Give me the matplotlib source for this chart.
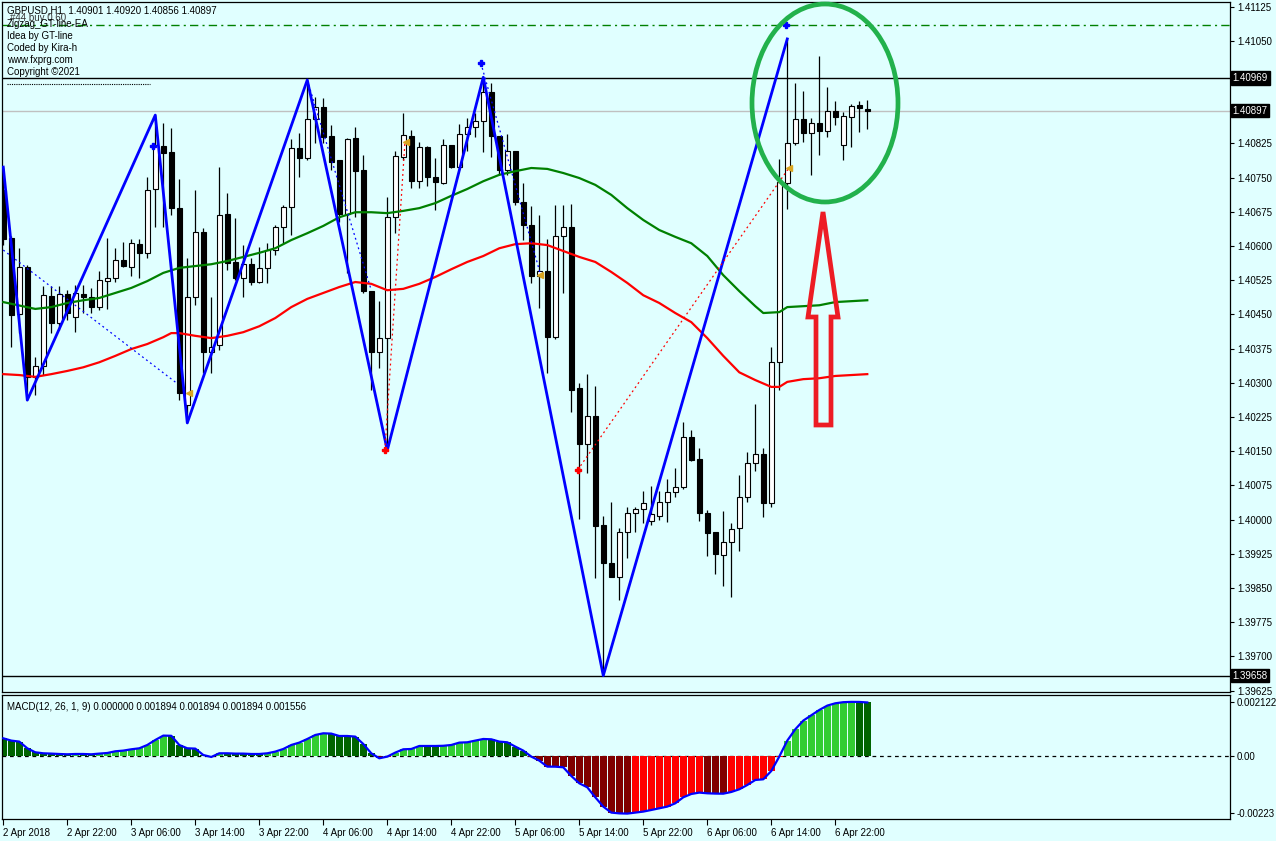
import matplotlib
matplotlib.use('Agg')
import matplotlib.pyplot as plt
import numpy as np
from matplotlib.patches import Ellipse, Polygon

plt.rcParams['font.family'] = ['Liberation Sans', 'DejaVu Sans']

# ---- GBPUSD H1 candles, 2-6 Apr 2018 ----
opens = [1.40723, 1.40617, 1.40451, 1.40554, 1.40313, 1.40337, 1.40490, 1.40431, 1.40495, 1.40444,
         1.40495, 1.40488, 1.40466, 1.40523, 1.40530, 1.40569, 1.40554, 1.40604, 1.40585, 1.40725,
         1.40819, 1.40806, 1.40683, 1.40251, 1.40488, 1.40631, 1.40367, 1.40383, 1.40670, 1.40565,
         1.40530, 1.40560, 1.40521, 1.40552, 1.40591, 1.40642, 1.40685, 1.40815, 1.40793, 1.40878,
         1.40905, 1.40841, 1.40788, 1.40670, 1.40837, 1.40767, 1.40501, 1.40367, 1.40398, 1.40663,
         1.40795, 1.40841, 1.40742, 1.40817, 1.40751, 1.40738, 1.40821, 1.40773, 1.40845, 1.40861,
         1.40874, 1.40938, 1.40841, 1.40767, 1.40808, 1.40696, 1.40646, 1.40534, 1.40545, 1.40400,
         1.40622, 1.40642, 1.40288, 1.40166, 1.40227, 1.39988, 1.39905, 1.39874, 1.39973, 1.40014,
         1.40023, 1.39997, 1.40008, 1.40038, 1.40060, 1.40071, 1.40181, 1.40133, 1.40014, 1.39973,
         1.39922, 1.39951, 1.39981, 1.40049, 1.40124, 1.40144, 1.40036, 1.40345, 1.40738, 1.40826,
         1.40878, 1.40848, 1.40870, 1.40852, 1.40896, 1.40821, 1.40883, 1.40909, 1.40901]
highs = [1.40773, 1.40622, 1.40595, 1.40558, 1.40356, 1.40512, 1.40512, 1.40512, 1.40503, 1.40514,
         1.40514, 1.40508, 1.40545, 1.40617, 1.40595, 1.40609, 1.40615, 1.40615, 1.40751, 1.40887,
         1.40870, 1.40859, 1.40747, 1.40574, 1.40723, 1.40639, 1.40488, 1.40773, 1.40716, 1.40661,
         1.40602, 1.40574, 1.40598, 1.40606, 1.40646, 1.40690, 1.40835, 1.40848, 1.40964, 1.40927,
         1.40924, 1.40865, 1.40788, 1.40837, 1.40861, 1.40799, 1.40501, 1.40479, 1.40707, 1.40808,
         1.40892, 1.40854, 1.40828, 1.40819, 1.40793, 1.40835, 1.40821, 1.40867, 1.40881, 1.40892,
         1.40970, 1.40957, 1.40841, 1.40845, 1.40808, 1.40738, 1.40688, 1.40668, 1.40615, 1.40690,
         1.40690, 1.40692, 1.40299, 1.40319, 1.40293, 1.40008, 1.40038, 1.39981, 1.40027, 1.40027,
         1.40063, 1.40074, 1.40063, 1.40089, 1.40113, 1.40214, 1.40196, 1.40157, 1.40021, 1.39973,
         1.40019, 1.39992, 1.40098, 1.40148, 1.40253, 1.40157, 1.40378, 1.40791, 1.41054, 1.40957,
         1.40940, 1.40881, 1.41017, 1.40949, 1.40918, 1.40894, 1.40911, 1.40918, 1.40920]
lows = [1.40602, 1.40378, 1.40409, 1.40262, 1.40273, 1.40317, 1.40409, 1.40416, 1.40438, 1.40411,
        1.40453, 1.40453, 1.40460, 1.40462, 1.40521, 1.40554, 1.40534, 1.40530, 1.40574, 1.40642,
        1.40642, 1.40668, 1.40262, 1.40212, 1.40470, 1.40321, 1.40321, 1.40372, 1.40547, 1.40525,
        1.40488, 1.40514, 1.40519, 1.40519, 1.40580, 1.40606, 1.40624, 1.40751, 1.40788, 1.40826,
        1.40826, 1.40767, 1.40653, 1.40541, 1.40663, 1.40497, 1.40284, 1.40332, 1.40152, 1.40628,
        1.40788, 1.40727, 1.40727, 1.40731, 1.40679, 1.40736, 1.40771, 1.40767, 1.40808, 1.40839,
        1.40806, 1.40795, 1.40756, 1.40756, 1.40690, 1.40613, 1.40519, 1.40464, 1.40321, 1.40396,
        1.40497, 1.40236, 1.40001, 1.40102, 1.39872, 1.39658, 1.39874, 1.39824, 1.39916, 1.39973,
        1.39992, 1.39988, 1.39999, 1.39995, 1.40049, 1.40067, 1.40129, 1.39997, 1.39920, 1.39881,
        1.39854, 1.39830, 1.39931, 1.40038, 1.40106, 1.40006, 1.40027, 1.40284, 1.40681, 1.40821,
        1.40828, 1.40756, 1.40799, 1.40839, 1.40865, 1.40788, 1.40817, 1.40850, 1.40856]
closes = [1.40615, 1.40449, 1.40554, 1.40313, 1.40337, 1.40492, 1.40431, 1.40495, 1.40453, 1.40497,
          1.40488, 1.40466, 1.40525, 1.40530, 1.40569, 1.40556, 1.40606, 1.40585, 1.40723, 1.40821,
          1.40804, 1.40683, 1.40278, 1.40488, 1.40631, 1.40367, 1.40378, 1.40668, 1.40563, 1.40530,
          1.40560, 1.40521, 1.40552, 1.40591, 1.40642, 1.40685, 1.40815, 1.40793, 1.40878, 1.40905,
          1.40839, 1.40784, 1.40670, 1.40835, 1.40764, 1.40501, 1.40367, 1.40398, 1.40663, 1.40797,
          1.40843, 1.40742, 1.40817, 1.40751, 1.40740, 1.40821, 1.40773, 1.40845, 1.40861, 1.40874,
          1.40938, 1.40841, 1.40767, 1.40808, 1.40696, 1.40646, 1.40534, 1.40545, 1.40400, 1.40622,
          1.40642, 1.40284, 1.40166, 1.40227, 1.39986, 1.39905, 1.39874, 1.39973, 1.40014, 1.40023,
          1.40036, 1.40012, 1.40038, 1.40060, 1.40071, 1.40181, 1.40131, 1.40014, 1.39970, 1.39924,
          1.39951, 1.39979, 1.40049, 1.40124, 1.40144, 1.40036, 1.40345, 1.40740, 1.40826, 1.40878,
          1.40848, 1.40870, 1.40852, 1.40896, 1.40883, 1.40885, 1.40907, 1.40902, 1.40897]

# moving averages (green = fast, red = slow), read at selected bars
green_idx = [0, 4, 6, 8, 10, 12, 14, 16, 18, 20, 22, 24, 26, 28, 30, 32, 34, 36, 38, 40, 42, 44, 46,
             48, 50, 52, 54, 56, 58, 60, 62, 64, 66, 68, 70, 72, 74, 76, 78, 80, 82, 84, 86, 88, 90,
             92, 94, 95, 97, 98, 100, 102, 104, 106, 108]
green_ma = [1.40477, 1.40462, 1.40466, 1.40475, 1.40481, 1.40486, 1.40497, 1.40508, 1.40523, 1.40541,
            1.40552, 1.40556, 1.40560, 1.40567, 1.40576, 1.40585, 1.40595, 1.40613, 1.40628, 1.40644,
            1.40663, 1.40674, 1.40674, 1.40672, 1.40677, 1.40683, 1.40694, 1.40710, 1.40725, 1.40742,
            1.40756, 1.40764, 1.40771, 1.40769, 1.40760, 1.40749, 1.40734, 1.40712, 1.40683, 1.40657,
            1.40635, 1.40620, 1.40606, 1.40578, 1.40536, 1.40501, 1.40468, 1.40453, 1.40455, 1.40466,
            1.40468, 1.40470, 1.40477, 1.40479, 1.40481]
red_idx = [0, 2, 4, 6, 8, 10, 12, 14, 16, 18, 20, 21, 22, 24, 26, 28, 30, 32, 34, 36, 38, 40, 42, 44,
           46, 48, 50, 52, 54, 56, 58, 60, 62, 64, 66, 68, 70, 72, 74, 76, 78, 80, 82, 84, 86, 88, 90,
           92, 94, 96, 97, 98, 100, 102, 104, 106, 108]
red_ma = [1.40319, 1.40317, 1.40313, 1.40319, 1.40326, 1.40334, 1.40345, 1.40359, 1.40374, 1.40385,
          1.40400, 1.40409, 1.40409, 1.40403, 1.40398, 1.40403, 1.40411, 1.40424, 1.40442, 1.40466,
          1.40484, 1.40497, 1.40510, 1.40521, 1.40517, 1.40503, 1.40506, 1.40517, 1.40532, 1.40549,
          1.40565, 1.40578, 1.40595, 1.40604, 1.40606, 1.40602, 1.40589, 1.40576, 1.40565, 1.40543,
          1.40519, 1.40492, 1.40475, 1.40453, 1.40433, 1.40398, 1.40359, 1.40323, 1.40306, 1.40291,
          1.40291, 1.40302, 1.40308, 1.40310, 1.40315, 1.40317, 1.40319]

# zigzag swings
zz_idx = [0, 3, 19, 23, 38, 48, 60, 75, 98]
zz_price = [1.40773, 1.40262, 1.40887, 1.40212, 1.40964, 1.40152, 1.40970, 1.39658, 1.41054]
# dotted helper legs of the EA
blue_legs = [([0, 21.7], [1.40591, 1.40299]), ([38, 46], [1.40964, 1.40503]), ([59.7, 67.1], [1.41001, 1.40541])]
red_legs = [([47.7, 50.2], [1.40152, 1.40826]), ([71.8, 98.2], [1.40109, 1.40771])]
sig_gold_x = [23.2, 50.3, 67.1, 98.2]
sig_gold_y = [1.40278, 1.40828, 1.40536, 1.40771]
sig_red_x = [47.7, 71.8]
sig_red_y = [1.40152, 1.40109]
sig_blue_x = [18.7, 59.7, 97.8]
sig_blue_y = [1.40819, 1.41001, 1.41085]

# MACD histogram per bar
macd = [0.000702, 0.000612, 0.000573, 0.000312, 0.000156, 0.000117, 0.000105, 0.000090, 0.000078, 0.000090,
        0.000090, 0.000078, 0.000105, 0.000129, 0.000195, 0.000222, 0.000273, 0.000312, 0.000441, 0.000636,
        0.000807, 0.000800, 0.000441, 0.000312, 0.000300, 0.000051, -0.000027, 0.000117, 0.000117, 0.000105,
        0.000105, 0.000090, 0.000090, 0.000117, 0.000183, 0.000285, 0.000441, 0.000534, 0.000675, 0.000831,
        0.000897, 0.000885, 0.000792, 0.000792, 0.000768, 0.000480, 0.000117, -0.000078, -0.000012, 0.000144,
        0.000273, 0.000285, 0.000402, 0.000402, 0.000402, 0.000410, 0.000441, 0.000534, 0.000546, 0.000612,
        0.000675, 0.000663, 0.000573, 0.000546, 0.000378, 0.000222, -0.000012, -0.000168, -0.000402, -0.000405,
        -0.000429, -0.000768, -0.001053, -0.001209, -0.001599, -0.001962, -0.002196, -0.002226, -0.002235, -0.002196,
        -0.002157, -0.002094, -0.002028, -0.001962, -0.001833, -0.001599, -0.001470, -0.001416, -0.001443, -0.001455,
        -0.001458, -0.001392, -0.001287, -0.001119, -0.000924, -0.000897, -0.000573, -0.000012, 0.000612, 0.001053,
        0.001392, 0.001599, 0.001806, 0.001977, 0.002067, 0.002110, 0.002122, 0.002120, 0.002100]

time_idx = [0, 8, 16, 24, 32, 40, 48, 56, 64, 72, 80, 88, 96, 104]
time_labels = ['2 Apr 2018', '2 Apr 22:00', '3 Apr 06:00', '3 Apr 14:00', '3 Apr 22:00', '4 Apr 06:00',
               '4 Apr 14:00', '4 Apr 22:00', '5 Apr 06:00', '5 Apr 14:00', '5 Apr 22:00', '6 Apr 06:00',
               '6 Apr 14:00', '6 Apr 22:00']

bg = '#E0FFFF'
fs = 7
W, H = 1276, 841
fig = plt.figure(figsize=(W / 100, H / 100), dpi=100, facecolor=bg)
ax = fig.add_axes([2 / W, 1 - 692 / H, 1228 / W, 690 / H], facecolor=bg)
ax2 = fig.add_axes([2 / W, 1 - 818.5 / H, 1228 / W, 124 / H], facecolor=bg)

idx = np.arange(len(opens))
o = np.array(opens)
c = np.array(closes)
hi = np.array(highs)
lo = np.array(lows)
up = c >= o

# ---- candles ----
ax.vlines(idx, lo, hi, color='black', lw=0.9, zorder=2)
body_h = np.maximum(np.abs(c - o), 0.00001)
ax.bar(idx, body_h, bottom=np.minimum(o, c), width=0.56,
       color=np.where(up, 'white', 'black'), edgecolor='black', linewidth=0.8, zorder=3)

ax.plot(green_idx, green_ma, color='#008000', lw=1.6, zorder=4)
ax.plot(red_idx, red_ma, color='#FF0000', lw=1.6, zorder=4)
ax.plot(zz_idx, zz_price, color='#0000FF', lw=2.0, zorder=5)
for xs, ys in blue_legs:
    ax.plot(xs, ys, color='#0000FF', lw=0.9, ls=(0, (1.5, 2.5)), zorder=5)
for xs, ys in red_legs:
    ax.plot(xs, ys, color='#FF0000', lw=0.9, ls=(0, (1.5, 2.5)), zorder=5)
ax.plot(sig_gold_x, sig_gold_y, ls='none', marker='<', ms=4.5, color='#DAA520', zorder=6)
ax.plot(sig_red_x, sig_red_y, ls='none', marker='P', ms=4.5, color='#FF0000', zorder=6)
ax.plot(sig_blue_x, sig_blue_y, ls='none', marker='P', ms=4.5, color='#0000FF', zorder=6)

# horizontal levels
ax.axhline(1.41085, color='#008000', lw=1.0, ls=(0, (6, 3, 1.5, 3)), zorder=1)
ax.axhline(1.40969, color='black', lw=1.0, zorder=1)
ax.axhline(1.40897, color='#C0C0C0', lw=1.0, zorder=1)
ax.axhline(1.39658, color='black', lw=1.0, zorder=1)

ax.set_xlim(-0.16, 153.34)
ax.set_ylim(1.39622, 1.41135)
ax.set_xticks([])
ax.yaxis.tick_right()
yt = np.arange(1.39625, 1.411251, 0.00075)
ax.set_yticks(yt)
# the two grid labels hidden behind the price boxes stay blank
ax.set_yticklabels(['' if abs(v - 1.40975) < 1e-6 or abs(v - 1.40900) < 1e-6 else f'{v:.5f}' for v in yt])
ax.tick_params(axis='y', length=3, width=0.8, pad=2, labelsize=fs)
for lvl in (1.40969, 1.40897, 1.39658):
    ax.text(1.002, lvl, f'{lvl:.5f}', transform=ax.get_yaxis_transform(), ha='left', va='center',
            fontsize=fs, color='white',
            bbox=dict(facecolor='black', edgecolor='black', pad=1.3))

# ---- MACD ----
cols = []
for k, v in enumerate(macd):
    prev = macd[k - 1] if k > 0 else v + 1
    if v >= 0:
        cols.append('#32CD32' if v > prev else '#006400')
    else:
        cols.append('#800000' if v < prev else '#FF0000')
ax2.bar(idx, macd, width=0.86, color=cols, linewidth=0, zorder=2)
ax2.plot(idx, macd, color='#0000FF', lw=1.6, zorder=3)
ax2.axhline(0, color='black', lw=0.9, ls=(0, (3, 3)), zorder=1)
ax2.set_xlim(-0.16, 153.34)
ax2.set_ylim(-0.002426, 0.00241)
ax2.yaxis.tick_right()
ax2.set_yticks([0.002122, 0.0, -0.00223])
ax2.set_yticklabels(['0.002122', '0.00', '-0.00223'])
ax2.tick_params(axis='y', length=3, width=0.8, pad=2, labelsize=fs)
ax2.set_xticks(time_idx)
ax2.set_xticklabels(time_labels, ha='left')
ax2.tick_params(axis='x', length=4, width=0.8, pad=3, labelsize=fs)
ax2.text(0.004, 0.94, 'MACD(12, 26, 1, 9) 0.000000 0.001894 0.001894 0.001894 0.001556',
         transform=ax2.transAxes, fontsize=fs, va='top')

for a in (ax, ax2):
    for s in a.spines.values():
        s.set_color('black')
        s.set_linewidth(0.9)

# ---- overlay in pixel space: header text and hand-drawn marks ----
ov = fig.add_axes([0, 0, 1, 1])
ov.set_xlim(0, W)
ov.set_ylim(H, 0)
ov.axis('off')
ov.patch.set_alpha(0)
ov.text(7, 10, 'GBPUSD,H1  1.40901 1.40920 1.40856 1.40897', fontsize=fs, va='center')
ov.text(10, 18, '#44 buy 0.60', fontsize=fs, va='center', color='#333333')
ov.text(7, 24, 'Zigzag_GT-line-EA', fontsize=fs, va='center')
ov.text(7, 36, 'Idea by GT-line', fontsize=fs, va='center')
ov.text(7, 48, 'Coded by Kira-h', fontsize=fs, va='center')
ov.text(7, 60, 'www.fxprg.com', fontsize=fs, va='center')
ov.text(7, 71.5, 'Copyright \u00a92021', fontsize=fs, va='center')
ov.plot([7, 150], [84, 84], color='black', lw=0.8, ls=(0, (1, 1)))

ov.add_patch(Ellipse((825, 103), 146, 198, fill=False, edgecolor='#22B14C', lw=3.4))
ov.add_patch(Polygon([(823, 212), (838, 317), (831, 317), (831, 425), (816, 425), (816, 317), (808, 317)],
                     closed=True, fill=False, edgecolor='#ED1C24', lw=3.4, joinstyle='miter'))

fig.savefig('out.png', dpi=100, facecolor=bg)
